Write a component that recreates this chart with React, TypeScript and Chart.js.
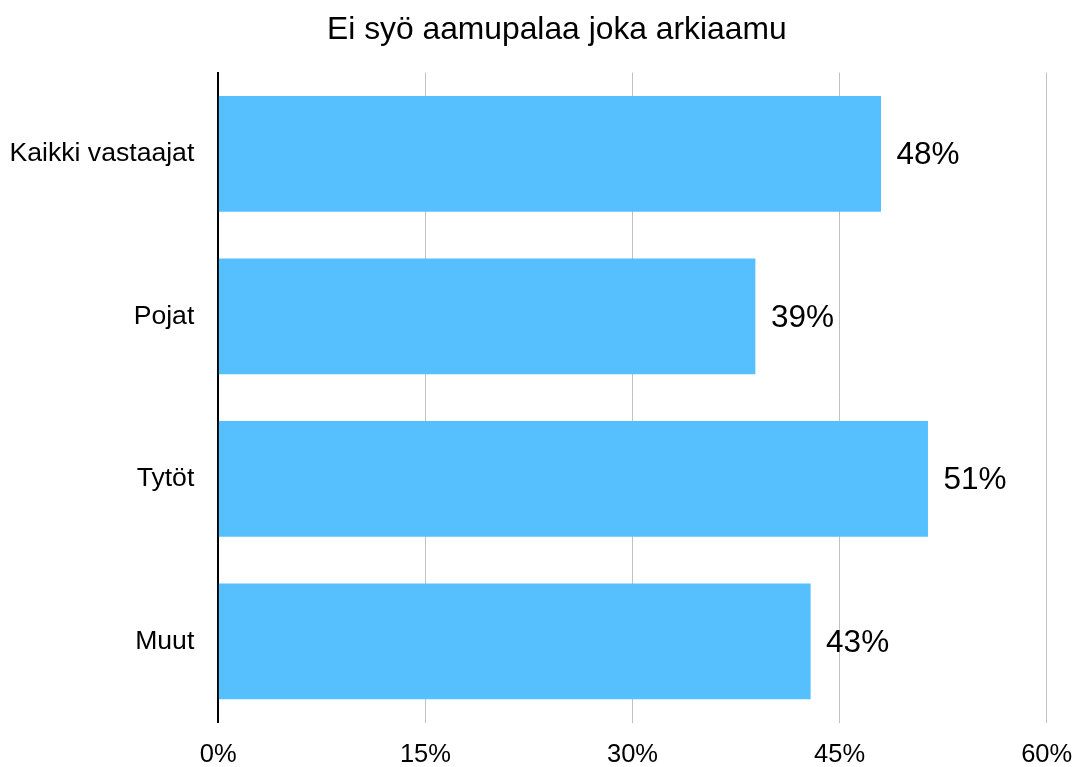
import React, { useEffect, useRef } from 'react';
import { Chart, registerables } from 'chart.js';

Chart.register(...registerables);

const TITLE = 'Ei syö aamupalaa joka arkiaamu';
const categories = ['Kaikki vastaajat', 'Pojat', 'Tytöt', 'Muut'];
const values = [48.0, 38.9, 51.4, 42.9];
const xTickValues = [0, 15, 30, 45, 60];

const FONT = '"Liberation Sans", Arial, sans-serif';
const BAR_COLOR = '#56c0ff';

const titlePlugin = {
  id: 'customTitle',
  afterDraw(chart: any) {
    const ctx = chart.ctx as CanvasRenderingContext2D;
    ctx.save();
    ctx.font = `31.8px ${FONT}`;
    ctx.fillStyle = '#000';
    ctx.textAlign = 'center';
    ctx.textBaseline = 'alphabetic';
    ctx.fillText(TITLE, chart.width / 2 + 18.3, 38.8);
    ctx.restore();
  },
};

const valueLabelPlugin = {
  id: 'valueLabels',
  afterDatasetsDraw(chart: any) {
    const ctx = chart.ctx as CanvasRenderingContext2D;
    const meta = chart.getDatasetMeta(0);
    ctx.save();
    ctx.font = `31.5px ${FONT}`;
    ctx.fillStyle = '#000';
    ctx.textAlign = 'left';
    ctx.textBaseline = 'middle';
    meta.data.forEach((bar: any, i: number) => {
      ctx.fillText(`${Math.round(values[i])}%`, bar.x + 15.5, bar.y + 1.5);
    });
    ctx.restore();
  },
};

export default function App() {
  const canvasRef = useRef<HTMLCanvasElement | null>(null);

  useEffect(() => {
    const canvas = canvasRef.current;
    if (!canvas) return;
    const chart = new Chart(canvas, {
      type: 'bar',
      data: {
        labels: categories,
        datasets: [
          {
            data: values,
            backgroundColor: BAR_COLOR,
            borderWidth: 0,
            barPercentage: 0.712,
            categoryPercentage: 1,
          },
        ],
      },
      options: {
        indexAxis: 'y',
        responsive: false,
        animation: false,
        layout: { padding: { top: 72.6, left: 0, right: 0, bottom: 0 } },
        plugins: {
          legend: { display: false },
          tooltip: { enabled: false },
          title: { display: false },
        },
        scales: {
          x: {
            min: 0,
            max: 60,
            afterBuildTicks: (scale: any) => {
              scale.ticks = xTickValues.map((v) => ({ value: v }));
            },
            afterFit: (scale: any) => {
              scale.height = 44.4;
              scale.paddingRight = 30.3;
            },
            ticks: {
              callback: (v: any) => `${v}%`,
              font: { family: FONT, size: 25.5 },
              color: '#000',
              padding: 17.4,
              maxRotation: 0,
              autoSkip: false,
            },
            grid: { color: '#c0c0c0', lineWidth: 1, drawTicks: false },
            border: { display: false },
          },
          y: {
            z: 1,
            afterFit: (scale: any) => {
              scale.width = 218.3;
            },
            grid: { display: false, drawTicks: false },
            border: { display: true, color: '#000', width: 2 },
            ticks: {
              font: { family: FONT, size: 26.6 },
              color: '#000',
              padding: 24,
            },
          },
        },
      } as any,
      plugins: [titlePlugin, valueLabelPlugin],
    });
    return () => chart.destroy();
  }, []);

  return (
    <div style={{ position: 'fixed', left: 0, top: 0, width: 1077, height: 767, background: '#fff' }}>
      <canvas ref={canvasRef} width={1077} height={767} style={{ display: 'block' }} />
    </div>
  );
}
